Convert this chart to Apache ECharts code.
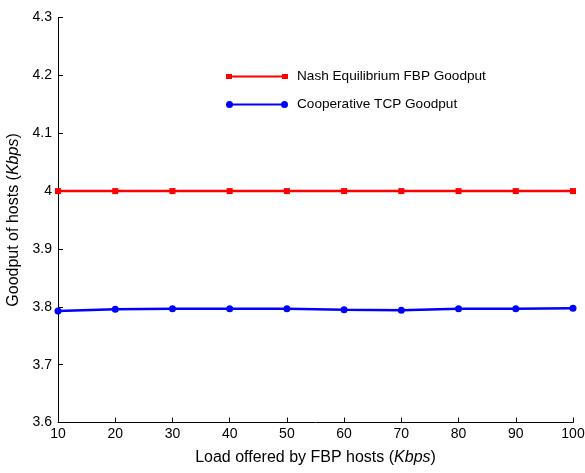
<!DOCTYPE html>
<html><head><meta charset="utf-8">
<script src="https://cdn.jsdelivr.net/npm/echarts@6/dist/echarts.min.js"></script>
<style>html,body{margin:0;padding:0;background:#fff}#c{width:585px;height:473px}</style>
</head><body><div id="c"></div>
<script>
var loads = [10, 20, 30, 40, 50, 60, 70, 80, 90, 100];
var nashGoodput = [4.0, 4.0, 4.0, 4.0, 4.0, 4.0, 4.0, 4.0, 4.0, 4.0];
var coopGoodput = [3.7928, 3.7959, 3.7966, 3.7966, 3.7966, 3.7948, 3.7941, 3.7966, 3.7966, 3.7976];
var seriesNames = ['Nash Equilibrium FBP Goodput', 'Cooperative TCP Goodput'];

var font = 'Liberation Sans, Arial, sans-serif';
var chart = echarts.init(document.getElementById('c'));
chart.setOption({
  animation: false,
  backgroundColor: '#fff',
  grid: { left: 58, right: 12, top: 17.5, bottom: 50.5, containLabel: false, outerBoundsMode: 'none' },
  legend: {
    left: 226, top: 69.5, orient: 'vertical', itemGap: 14,
    itemWidth: 62, itemHeight: 8, padding: 0,
    itemStyle: { borderWidth: 0 },
    textStyle: { fontFamily: font, fontSize: 13.6, color: '#000', padding: [0, 0, 0, 4] },
    data: [
      { name: seriesNames[0], icon: 'path://M0,1.5h6v5h-6z M56,1.5h6v5h-6z M5,3h52v2h-52z' },
      { name: seriesNames[1], icon: 'path://M0,4a3.5,3.5 0 1,1 7,0a3.5,3.5 0 1,1 -7,0z M55,4a3.5,3.5 0 1,1 7,0a3.5,3.5 0 1,1 -7,0z M6.5,3h49v2h-49z' }
    ]
  },
  xAxis: {
    type: 'value', min: 10, max: 100, interval: 10,
    name: 'Load offered by FBP hosts ({i|Kbps})', nameLocation: 'middle', nameGap: 27,
    nameTextStyle: { fontFamily: font, fontSize: 16, color: '#000', rich: { i: { fontFamily: font, fontSize: 16, fontStyle: 'italic', color: '#000' } } },
    axisLine: { lineStyle: { color: '#000', width: 1 } },
    axisTick: { inside: true, length: 5, lineStyle: { color: '#000' } },
    axisLabel: { fontFamily: font, fontSize: 14, color: '#000', margin: 5 },
    splitLine: { show: false }
  },
  yAxis: {
    type: 'value', min: 3.6, max: 4.3, interval: 0.1,
    name: 'Goodput of hosts ({i|Kbps})', nameLocation: 'middle', nameGap: 34,
    nameTextStyle: { fontFamily: font, fontSize: 16, color: '#000', rich: { i: { fontFamily: font, fontSize: 16, fontStyle: 'italic', color: '#000' } } },
    axisLine: { show: true, lineStyle: { color: '#000', width: 1 } },
    axisTick: { show: true, inside: true, length: 5, lineStyle: { color: '#000' } },
    axisLabel: { fontFamily: font, fontSize: 14, color: '#000', margin: 6,
      formatter: function (v) { return String(parseFloat(v.toFixed(1))); } },
    splitLine: { show: false }
  },
  series: [
    { name: seriesNames[0], type: 'line', data: loads.map(function (x, i) { return [x, nashGoodput[i]]; }),
      color: '#ff0000', lineStyle: { width: 2.5, color: '#ff0000' },
      symbol: 'rect', symbolSize: 6, itemStyle: { color: '#ff0000' }, showAllSymbol: true },
    { name: seriesNames[1], type: 'line', data: loads.map(function (x, i) { return [x, coopGoodput[i]]; }),
      color: '#0000ff', lineStyle: { width: 2.5, color: '#0000ff' },
      symbol: 'circle', symbolSize: 7, itemStyle: { color: '#0000ff' }, showAllSymbol: true }
  ]
});
</script></body></html>
